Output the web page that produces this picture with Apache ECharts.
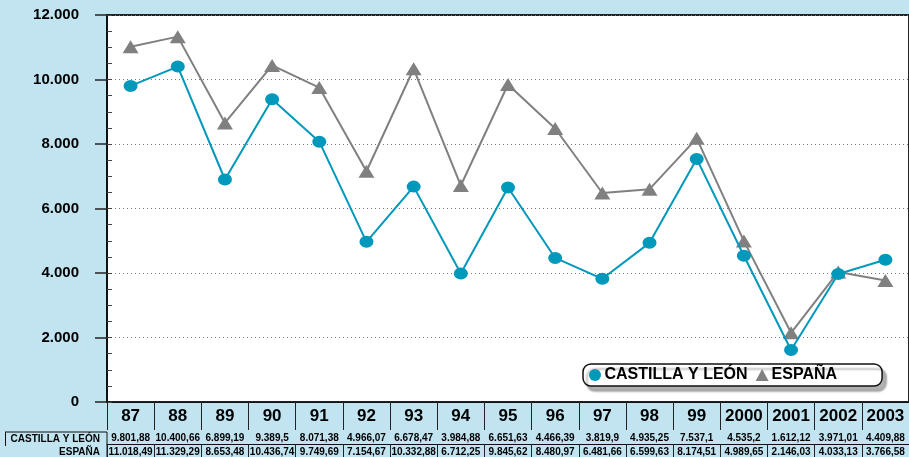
<!DOCTYPE html>
<html>
<head>
<meta charset="utf-8" />
<script src="https://cdn.jsdelivr.net/npm/echarts@6/dist/echarts.min.js"></script>
<style>
  html, body { margin: 0; padding: 0; background: #c1e4f0; }
  #chartmain { width: 909px; height: 457px; }
</style>
</head>
<body>
<div id="chartmain"></div>
<script>
var years = ['87', '88', '89', '90', '91', '92', '93', '94', '95', '96', '97', '98', '99', '2000', '2001', '2002', '2003'];
var castilla = [9801.88, 10400.66, 6899.19, 9389.5, 8071.38, 4966.07, 6678.47, 3984.88, 6651.63, 4466.39, 3819.9, 4935.25, 7537.1, 4535.2, 1612.12, 3971.01, 4409.88];
var espana = [11018.49, 11329.29, 8653.48, 10436.74, 9749.69, 7154.67, 10332.88, 6712.25, 9845.62, 8480.97, 6481.66, 6599.63, 8174.51, 4989.65, 2146.03, 4033.13, 3766.58];
var seriesNames = ['CASTILLA Y LEÓN', 'ESPAÑA'];

// 9801.88 -> "9.801,88"
function fmt(v) {
  var parts = String(v).split('.');
  var ent = parts[0].replace(/\B(?=(\d{3})+(?!\d))/g, '.');
  return parts.length > 1 ? ent + ',' + parts[1] : ent;
}

var font = 'Liberation Sans, Arial, sans-serif';

function tableAxis(offset, values) {
  return {
    type: 'category',
    data: years,
    position: 'bottom',
    offset: offset,
    axisLine: { show: true, lineStyle: { color: '#111', width: 1 } },
    axisTick: { show: true, length: 14, lineStyle: { color: '#222', width: 1 } },
    axisLabel: {
      interval: 0, margin: 3, color: '#000', fontFamily: font, fontWeight: 'bold', fontSize: 10,
      formatter: function (v, i) { return fmt(values[i]); }
    },
    splitLine: { show: false }
  };
}

var option = {
  animation: false,
  backgroundColor: '#c1e4f0',
  grid: {
    left: 107, right: -3, top: 15, bottom: 53,
    show: true, backgroundColor: '#fff', borderColor: '#222', borderWidth: 2
  },
  legend: {
    left: 583, top: 364,
    orient: 'horizontal',
    data: [{ name: seriesNames[0], icon: 'circle' }, { name: seriesNames[1], icon: 'triangle' }],
    itemWidth: 13, itemHeight: 12, itemGap: 8,
    padding: [3, 45, 3, 6],
    backgroundColor: '#fff', borderColor: '#111', borderWidth: 1.5, borderRadius: 8,
    shadowColor: 'rgba(0,0,0,0.3)', shadowOffsetX: 4, shadowOffsetY: 5, shadowBlur: 2,
    textStyle: { color: '#000', fontFamily: font, fontWeight: 'bold', fontSize: 16, padding: [0, 0, 0, -2] }
  },
  xAxis: [
    {
      type: 'category',
      data: years,
      boundaryGap: true,
      axisLine: { show: true, lineStyle: { color: '#222', width: 2 } },
      axisTick: { show: true, length: 28, lineStyle: { color: '#222', width: 1 } },
      axisLabel: { interval: 0, margin: 6, color: '#000', fontFamily: font, fontWeight: 'bold', fontSize: 17 },
      splitLine: { show: false }
    },
    tableAxis(28, castilla),
    tableAxis(42, espana)
  ],
  yAxis: [
    {
      type: 'value',
      min: 0, max: 12000, interval: 2000,
      axisLine: { show: true, lineStyle: { color: '#111', width: 2 } },
      axisTick: { show: true, length: 12, lineStyle: { color: '#222', width: 1.5 } },
      axisLabel: {
        margin: 28, color: '#000', fontFamily: font, fontWeight: 'bold', fontSize: 15,
        formatter: function (v) { return fmt(v); }
      },
      splitLine: { show: true, lineStyle: { color: '#777', type: [1, 3], width: 1 } }
    },
    {
      type: 'value',
      min: 0, max: 12000, interval: 500,
      position: 'left',
      axisLine: { show: false },
      axisTick: { show: true, inside: true, length: 5, lineStyle: { color: '#444', width: 1 } },
      axisLabel: { show: false },
      splitLine: { show: false }
    }
  ],
  graphic: [
    { type: 'line', shape: { x1: 5, y1: 432, x2: 107, y2: 432 }, style: { stroke: '#111', lineWidth: 1 } },
    { type: 'line', shape: { x1: 5.5, y1: 432, x2: 5.5, y2: 446 }, style: { stroke: '#111', lineWidth: 1 } },
    { type: 'line', shape: { x1: 107, y1: 432, x2: 107, y2: 457 }, style: { stroke: '#111', lineWidth: 1 } },
    {
      type: 'text', x: 100, y: 439,
      style: { text: seriesNames[0], fill: '#000', font: 'bold 10px ' + font, align: 'right', verticalAlign: 'middle' }
    },
    {
      type: 'text', x: 100, y: 452,
      style: { text: seriesNames[1], fill: '#000', font: 'bold 10px ' + font, align: 'right', verticalAlign: 'middle' }
    }
  ],
  series: [
    {
      name: seriesNames[0],
      type: 'line',
      data: castilla,
      symbol: 'circle',
      symbolSize: [14, 12],
      lineStyle: { color: '#0098bb', width: 2 },
      itemStyle: { color: '#0098bb' },
      z: 3
    },
    {
      name: seriesNames[1],
      type: 'line',
      data: espana,
      symbol: 'triangle',
      symbolSize: [16, 13],
      lineStyle: { color: '#808080', width: 2 },
      itemStyle: { color: '#808080' },
      z: 2
    }
  ]
};

var myChart = echarts.init(document.getElementById('chartmain'));
myChart.setOption(option);
</script>
</body>
</html>
